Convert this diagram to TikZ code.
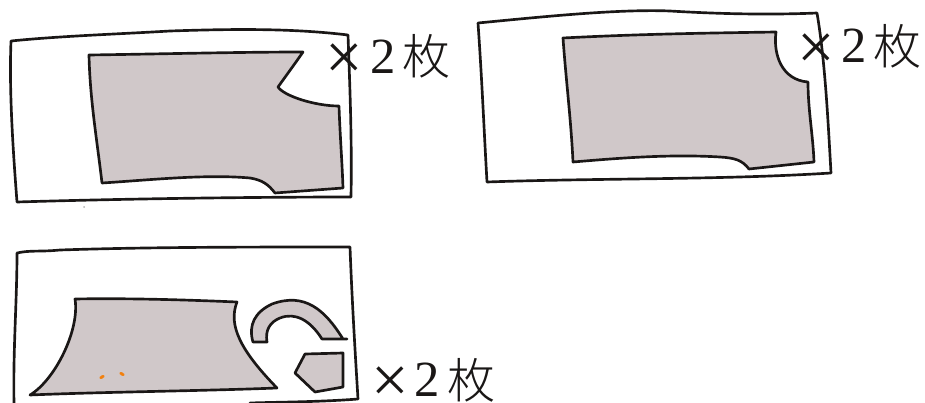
\documentclass[tikz,border=0pt]{standalone}
\usepackage{fontspec}
\setmainfont{Liberation Serif}
\newfontfamily\cjkf{Noto Sans CJK JP Light}
\definecolor{clothfill}{HTML}{D0C8C9}
\definecolor{inkc}{HTML}{1A1716}
\tikzset{
  ink/.style={draw=inkc,line width=2pt,line join=round,line cap=round},
  sheet/.style={ink},
  piece/.style={ink,fill=clothfill},
  count/.style={inner sep=0pt,anchor=center,text=inkc,font=\fontsize{38}{38}\selectfont},
  kanji/.style={inner sep=0pt,anchor=center,text=inkc,font=\fontsize{36}{36}\selectfont\cjkf},
  times/.style={inner sep=0pt,anchor=center,text=inkc,font=\fontsize{50}{50}\selectfont},
  speck/.style={fill=#1,draw=none}
}
\begin{document}
\begin{tikzpicture}[x=0.75pt,y=-0.75pt]
\useasboundingbox (0,0) rectangle (925,403);
% sheet 1
\draw[sheet] (11,41) .. controls (60,36) and (120,34) .. (170,31) .. controls (230,29) and (290,28) .. (348,35)
  .. controls (350,90) and (352,140) .. (351,197) .. controls (280,197) and (150,198) .. (17,202)
  .. controls (13,150) and (9,90) .. (11,41) -- cycle;
\draw[piece] (89,55) .. controls (160,54) and (240,52) .. (303,52) -- (296,62) -- (278,87)
  .. controls (284,96) and (315,106) .. (339,106) .. controls (340,135) and (342,160) .. (343,188)
  -- (275,193) .. controls (268,184) and (262,180) .. (250,178) .. controls (205,174) and (150,180) .. (102,183)
  .. controls (97,140) and (90,100) .. (89,55) -- cycle;
% sheet 2
\draw[sheet] (478,23) .. controls (550,16) and (620,9) .. (670,11) .. controls (720,14) and (770,15) .. (817,13)
  .. controls (825,60) and (828,120) .. (831,173) .. controls (720,180) and (600,178) .. (487,182)
  .. controls (484,130) and (482,80) .. (478,23) -- cycle;
\draw[piece] (563,38) .. controls (640,34) and (710,33) .. (776,32)
  .. controls (773,55) and (782,80) .. (808,82) .. controls (808,110) and (813,135) .. (814,162)
  -- (749,169) .. controls (742,160) and (735,158) .. (720,157) .. controls (670,154) and (620,158) .. (573,162)
  .. controls (571,120) and (566,80) .. (563,38) -- cycle;
% sheet 3
\draw[sheet] (14,403) .. controls (13,350) and (17,300) .. (17,253) .. controls (30,250) and (40,252) .. (60,250)
  .. controls (150,247) and (250,247) .. (350,247) .. controls (352,300) and (355,350) .. (358,399)
  .. controls (320,402) and (280,402) .. (250,403);
\draw[piece] (75,299) .. controls (130,298) and (190,300) .. (237,302)
  .. controls (228,325) and (240,350) .. (277,388) .. controls (200,391) and (100,392) .. (30,395)
  .. controls (55,380) and (80,330) .. (75,299) -- cycle;
\draw[piece] (253,342) .. controls (248,325) and (255,312) .. (272,304)
  .. controls (305,292) and (325,310) .. (343,339) -- (347,339) -- (322,339)
  .. controls (310,320) and (295,312) .. (280,318) .. controls (270,322) and (265,330) .. (267,342) -- cycle;
\draw[piece] (305,354) -- (343,353) -- (343,387) -- (315,392) -- (295,373) -- cycle;
% specks
\fill[speck=orange!80!brown,rotate around={30:(102,377)}] (102,377) ellipse [x radius=2.8,y radius=1.6];
\fill[speck=orange!80!brown,rotate around={-30:(122,374)}] (122,374) ellipse [x radius=2.8,y radius=1.6];
\fill[speck=gray!60] (84,207) circle [radius=1];
% counts
\node[times] (c1) at (344,62) {×};
\node[count] (c1a) at (383,57) {2};
\node[kanji] (c1b) at (426,56) {枚};
\node[times] (c2) at (816,52) {×};
\node[count] (c2a) at (854,46) {2};
\node[kanji] (c2b) at (897,46) {枚};
\node[times] (c3) at (390,385) {×};
\node[count] (c3a) at (427,380) {2};
\node[kanji] (c3b) at (471,380) {枚};
\end{tikzpicture}
\end{document}
